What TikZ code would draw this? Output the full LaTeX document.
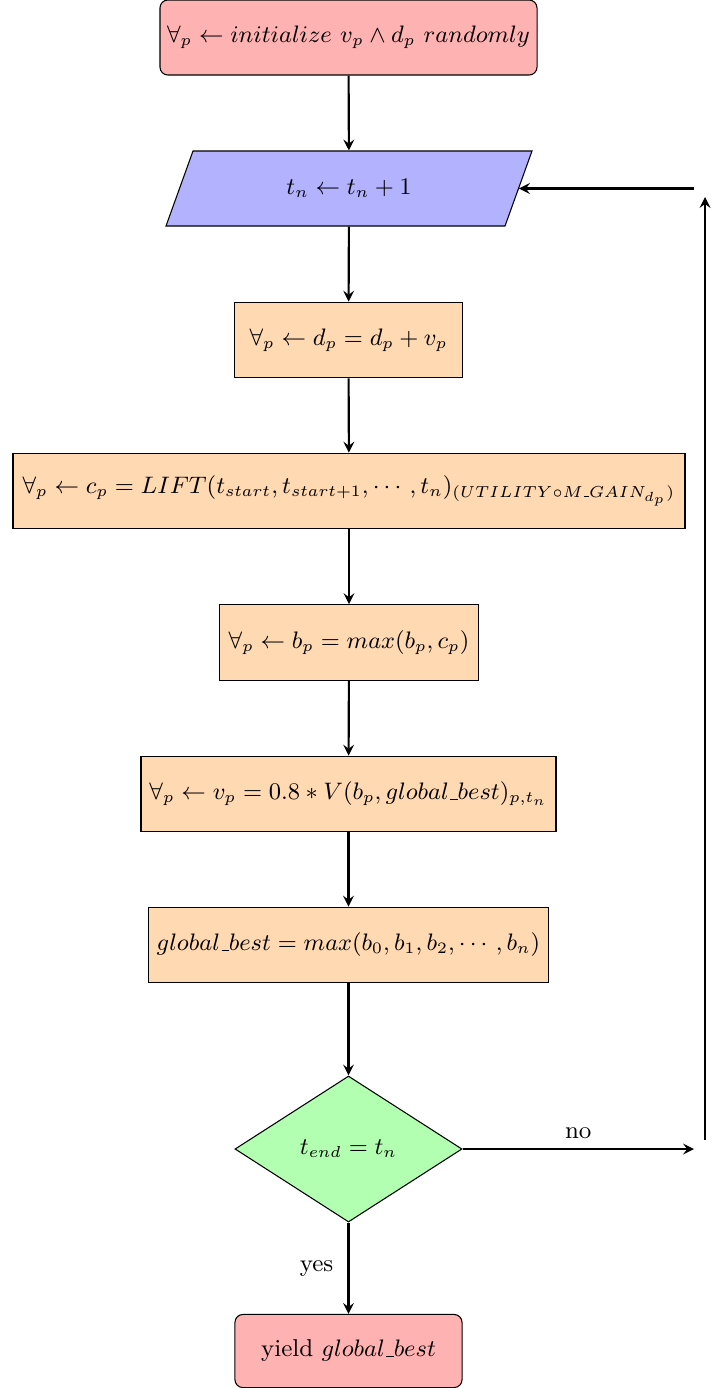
\documentclass[tikz,border=0pt]{standalone}
\usepackage{amsmath}
\usetikzlibrary{shapes.geometric,arrows}
\newcommand\us{\text{\kern.06em\vbox{\hrule width.3em height .4pt}}}
\begin{document}
\begin{tikzpicture}[x=0.3774pt,y=-0.3774pt,
 font=\fontsize{9.2pt}{11pt}\selectfont,
 base/.style={draw, thin, inner sep=0pt, align=center},
 startstop/.style={base, rectangle, rounded corners=3pt, fill=red!30, minimum height=28.3pt},
 iobox/.style={rectangle, inner sep=0pt, minimum height=28.3pt},
 process/.style={base, rectangle, fill=orange!30, minimum height=28.6pt},
 decision/.style={base, diamond, fill=green!30, minimum width=85.7pt, minimum height=55.1pt},
 arrow/.style={thick,-stealth}]
\useasboundingbox (0,0) rectangle (727,1388);
\node[startstop, minimum width=142.3pt] (start) at (348.5,37.5) {$\forall_p \leftarrow initialize\ v_p \wedge d_p\ randomly$};
\draw[thin, fill=blue!30] (193,151) -- (532,151) -- (505,226) -- (166,226) -- cycle;
\node[iobox, minimum width=127.9pt] (io) at (349,188.5) {$t_n \leftarrow t_n + 1$};
\node[process, minimum width=85.7pt] (p1) at (348.5,340) {$\forall_p \leftarrow d_p = d_p + v_p$};
\node[process, minimum width=253.6pt] (p2) at (349,491) {$\forall_p \leftarrow c_p = LIFT(t_{start}, t_{start+1}, \cdots, t_n)_{(UTILITY \circ M\us GAIN_{d_p})}$};
\node[process, minimum width=97.4pt] (p3) at (349,642.5) {$\forall_p \leftarrow b_p = max(b_p, c_p)$};
\node[process, minimum width=156.6pt] (p4) at (348.5,794) {$\forall_p \leftarrow v_p = 0.8 * V(b_p, global\us best)_{p,t_n}$};
\node[process, minimum width=151.3pt] (p5) at (348.5,945) {$global\us best = max(b_0, b_1, b_2, \cdots, b_n)$};
\node[decision] (dec) at (348.5,1149) {$t_{end} = t_n$};
\node[startstop, minimum width=85.7pt, minimum height=27.6pt] (stop) at (348.5,1351) {yield $global\us best$};
\coordinate (c1) at (694,1149);
\coordinate (c2) at (705,1140);
\coordinate (c3) at (705,197);
\coordinate (c4) at (694,188.5);
\draw[arrow] (start) -- (io);
\draw[arrow] (io) -- (p1);
\draw[arrow] (p1) -- (p2);
\draw[arrow] (p2) -- (p3);
\draw[arrow] (p3) -- (p4);
\draw[arrow] (p4) -- (p5);
\draw[arrow] (p5) -- (dec);
\draw[arrow] (dec) -- node[left, xshift=-2pt] {yes} (stop);
\draw[arrow] (dec) -- node[above] {no} (c1);
\draw[arrow] (c2) -- (c3);
\draw[arrow] (c4) -- (io);
\end{tikzpicture}
\end{document}
